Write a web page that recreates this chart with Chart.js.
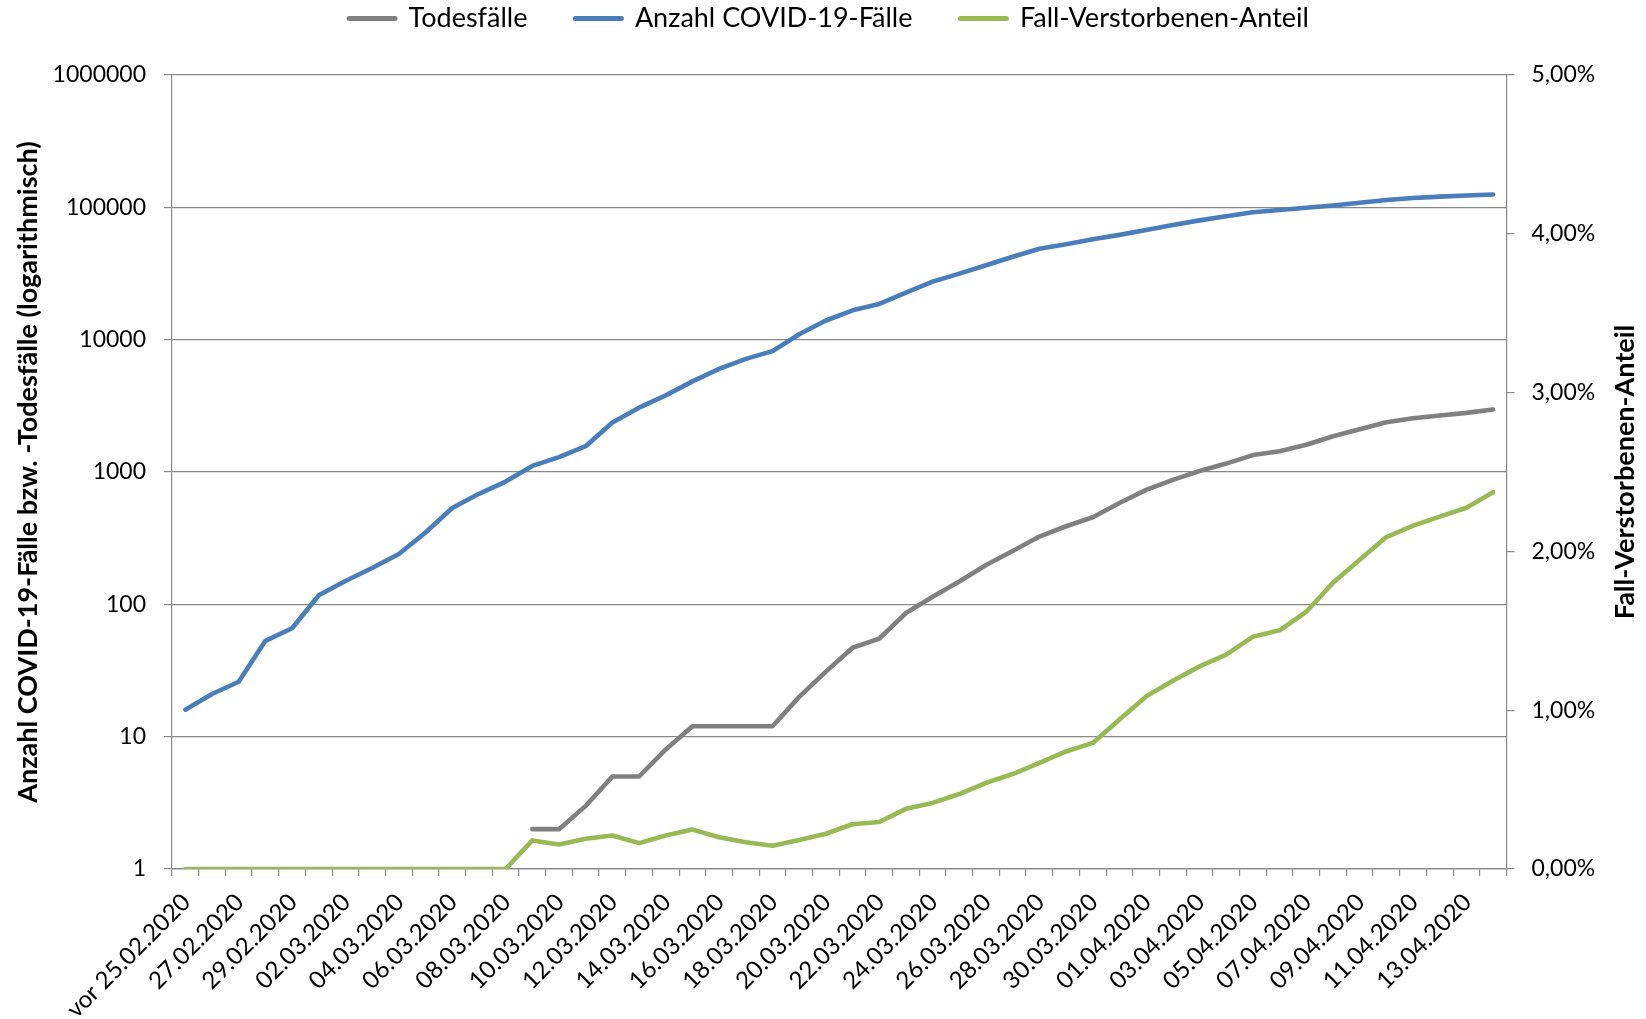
<!DOCTYPE html>
<html>
<head>
<meta charset="utf-8">
<script src="https://cdn.jsdelivr.net/npm/chart.js@4.4.1/dist/chart.umd.min.js"></script>
<style>
  html, body { margin: 0; padding: 0; background: #ffffff; }
  #wrap { width: 1646px; height: 1019px; }
</style>
</head>
<body>
<div id="wrap"><canvas id="c" width="1646" height="1019"></canvas></div>
<script>
// ---- data ----
const categories = [
  'vor 25.02.2020','26.02.2020','27.02.2020','28.02.2020','29.02.2020',
  '01.03.2020','02.03.2020','03.03.2020','04.03.2020','05.03.2020',
  '06.03.2020','07.03.2020','08.03.2020','09.03.2020','10.03.2020',
  '11.03.2020','12.03.2020','13.03.2020','14.03.2020','15.03.2020',
  '16.03.2020','17.03.2020','18.03.2020','19.03.2020','20.03.2020',
  '21.03.2020','22.03.2020','23.03.2020','24.03.2020','25.03.2020',
  '26.03.2020','27.03.2020','28.03.2020','29.03.2020','30.03.2020',
  '31.03.2020','01.04.2020','02.04.2020','03.04.2020','04.04.2020',
  '05.04.2020','06.04.2020','07.04.2020','08.04.2020','09.04.2020',
  '10.04.2020','11.04.2020','12.04.2020','13.04.2020','14.04.2020'
];

const faelle = [
  16, 21, 26, 53, 66, 117, 150, 188, 240, 349,
  534, 684, 847, 1112, 1296, 1567, 2369, 3062, 3795, 4838,
  6012, 7156, 8198, 10999, 13957, 16662, 18610, 22672, 27436, 31554,
  36508, 42288, 48582, 52547, 57298, 61913, 67366, 73522, 79696, 85778,
  91714, 95391, 99225, 103228, 108202, 113525, 117658, 120479, 123016, 125098
];

const todesfaelle = [
  null, null, null, null, null, null, null, null, null, null,
  null, null, null, 2, 2, 3, 5, 5, 8, 12,
  12, 12, 12, 20, 31, 47, 55, 86, 114, 149,
  198, 253, 325, 389, 455, 583, 732, 872, 1017, 1158,
  1342, 1434, 1607, 1861, 2107, 2373, 2544, 2673, 2799, 2969
];

// Fall-Verstorbenen-Anteil in percent
const anteil = [
  0, 0, 0, 0, 0, 0, 0, 0, 0, 0,
  0, 0, 0, 0.180, 0.154, 0.191, 0.211, 0.163, 0.211, 0.248,
  0.200, 0.168, 0.146, 0.182, 0.222, 0.282, 0.296, 0.379, 0.416, 0.472,
  0.542, 0.598, 0.669, 0.740, 0.794, 0.942, 1.087, 1.186, 1.276, 1.350,
  1.463, 1.503, 1.620, 1.803, 1.947, 2.090, 2.162, 2.219, 2.275, 2.373
];

const leftTicks = [1, 10, 100, 1000, 10000, 100000, 1000000];
const rightTicks = [0, 1, 2, 3, 4, 5];
const seriesNames = ['Todesfälle', 'Anzahl COVID-19-Fälle', 'Fall-Verstorbenen-Anteil'];
const leftTitle = 'Anzahl COVID-19-Fälle bzw. -Todesfälle (logarithmisch)';
const rightTitle = 'Fall-Verstorbenen-Anteil';

// ---- styling ----
const FONT = 'Lato';
const GRID = '#898989';
const COLORS = ['#808080', '#4a7ebb', '#98b954'];

Chart.defaults.font.family = FONT;
Chart.defaults.color = '#000000';

const LEGEND_H = 75;
const LEGEND_DY = -43;
const LEGEND_DX = 6;

const legendTweak = {
  id: 'legendTweak',
  beforeUpdate(chart) {
    const lg = chart.legend;
    if (!lg || lg._tweaked) return;
    lg._tweaked = true;
    const fit = lg.fit;
    lg.fit = function () {
      fit.call(this);
      if (this.options.display) this.height = LEGEND_H;
    };
    const draw = lg.draw;
    lg.draw = function (...args) {
      const c = this.ctx;
      c.save();
      c.translate(LEGEND_DX, LEGEND_DY);
      draw.apply(this, args);
      c.restore();
    };
  }
};

const rightTitlePlugin = {
  id: 'rightTitle',
  afterDraw(chart) {
    const { ctx, chartArea } = chart;
    ctx.save();
    ctx.translate(chart.width - 21, (chartArea.top + chartArea.bottom) / 2);
    ctx.rotate(-Math.PI / 2);
    ctx.font = 'bold 27px ' + FONT;
    ctx.fillStyle = '#000000';
    ctx.textAlign = 'center';
    ctx.textBaseline = 'middle';
    ctx.fillText(rightTitle, 0, 0);
    ctx.restore();
  }
};

function lineDs(label, data, color, axis) {
  return {
    label, data, yAxisID: axis,
    borderColor: color, backgroundColor: color,
    borderWidth: 4.6, pointRadius: 0, pointHoverRadius: 0,
    tension: 0, fill: false, spanGaps: false,
    borderCapStyle: 'round', borderJoinStyle: 'round'
  };
}

new Chart(document.getElementById('c'), {
  type: 'line',
  data: {
    labels: categories,
    datasets: [
      lineDs(seriesNames[0], todesfaelle, COLORS[0], 'y'),
      lineDs(seriesNames[1], faelle, COLORS[1], 'y'),
      lineDs(seriesNames[2], anteil, COLORS[2], 'y1')
    ]
  },
  options: {
    responsive: false,
    animation: false,
    events: [],
    layout: { padding: 0 },
    plugins: {
      tooltip: { enabled: false },
      legend: {
        position: 'top',
        labels: {
          font: { size: 27 },
          color: '#000000',
          boxWidth: 46,
          boxHeight: 0,
          padding: 48,
          generateLabels(chart) {
            const items = Chart.defaults.plugins.legend.labels.generateLabels(chart);
            items.forEach(it => {
              it.lineWidth = 5;
              it.lineJoin = 'round';
              it.lineCap = 'round';
              it.fillStyle = 'rgba(0,0,0,0)';
            });
            return items;
          }
        }
      }
    },
    scales: {
      x: {
        offset: true,
        grid: { offset: true, drawOnChartArea: false, tickLength: 7, color: GRID, lineWidth: 1.2 },
        border: { display: true, color: GRID, width: 1.2 },
        ticks: {
          autoSkip: false,
          minRotation: 45,
          maxRotation: 45,
          padding: 12,
          labelOffset: 1,
          font: { size: 24 },
          callback: function (v, i) { return i % 2 === 0 ? categories[i] : ''; }
        },
        afterFit(s) { s.height = 150; }
      },
      y: {
        type: 'logarithmic',
        position: 'left',
        min: 1,
        max: 1000000,
        afterBuildTicks(s) { s.ticks = leftTicks.map(v => ({ value: v })); },
        ticks: {
          font: { size: 23 },
          padding: 18,
          callback: v => String(v)
        },
        grid: { color: GRID, lineWidth: 1.2, tickLength: 8 },
        border: { color: GRID, width: 1.2 },
        title: {
          display: true,
          text: leftTitle,
          font: { size: 27, weight: 'bold' },
          padding: { top: 12.5, bottom: 0 }
        },
        afterFit(s) { s.width = 172; }
      },
      y1: {
        type: 'linear',
        position: 'right',
        min: 0,
        max: 5,
        afterBuildTicks(s) { s.ticks = rightTicks.map(v => ({ value: v })); },
        ticks: {
          font: { size: 23 },
          padding: 17,
          callback: v => v.toFixed(2).replace('.', ',') + '%'
        },
        grid: { drawOnChartArea: false, color: GRID, lineWidth: 1.2, tickLength: 8 },
        border: { color: GRID, width: 1.2 },
        afterFit(s) { s.width = 139.5; }
      }
    }
  },
  plugins: [legendTweak, rightTitlePlugin]
});
</script>
</body>
</html>
